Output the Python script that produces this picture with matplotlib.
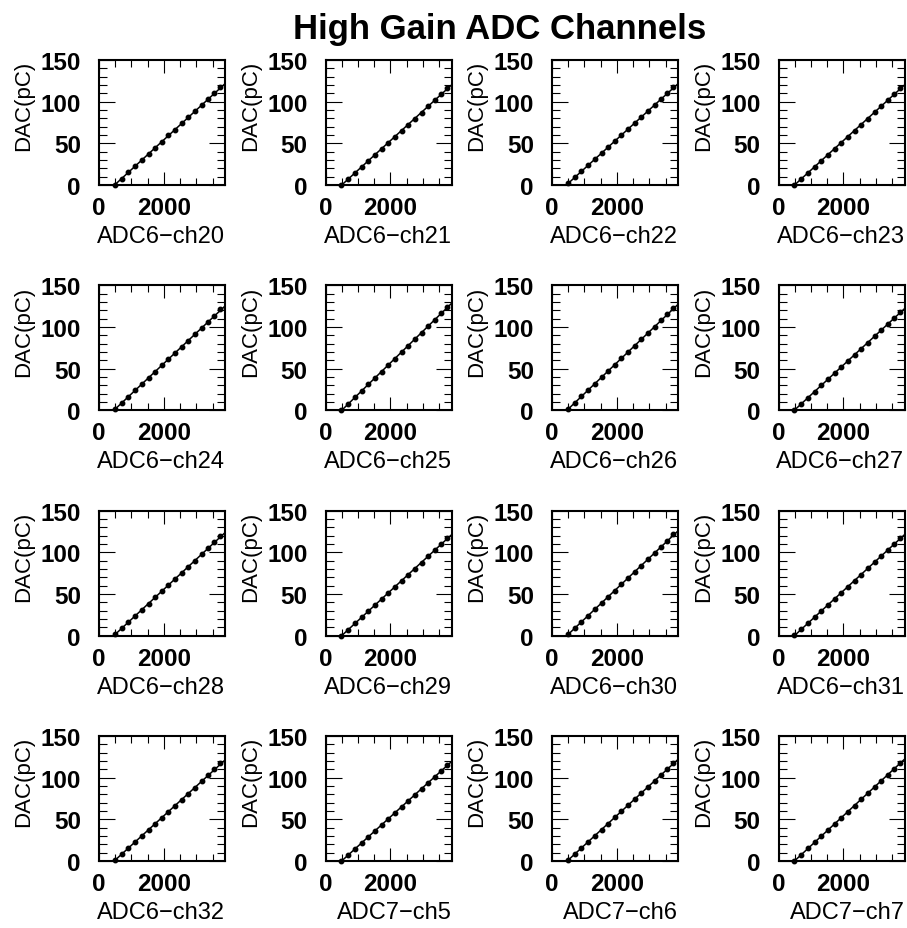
import numpy as np
import matplotlib
matplotlib.use("Agg")
import matplotlib.pyplot as plt
from matplotlib.ticker import MultipleLocator

plt.rcParams['font.family'] = ['Liberation Sans', 'DejaVu Sans']

# channel names, row by row
channels = ["ADC6\u2212ch20", "ADC6\u2212ch21", "ADC6\u2212ch22", "ADC6\u2212ch23",
            "ADC6\u2212ch24", "ADC6\u2212ch25", "ADC6\u2212ch26", "ADC6\u2212ch27",
            "ADC6\u2212ch28", "ADC6\u2212ch29", "ADC6\u2212ch30", "ADC6\u2212ch31",
            "ADC6\u2212ch32", "ADC7\u2212ch5", "ADC7\u2212ch6", "ADC7\u2212ch7"]

# ADC readings of the calibration steps (same for every channel)
adc = [490, 695, 905, 1110, 1320, 1525, 1730, 1935, 2140,
       2345, 2550, 2755, 2960, 3160, 3365, 3555, 3740]

# injected charge (pC) read for each channel
dac_ch20 = [0.3, 7.6, 15.2, 22.6, 29.9, 37.4, 44.8, 52.1, 59.5, 66.6, 74.0, 81.3, 88.6, 95.5, 102.7, 109.9, 117.1]
dac_ch21 = [0.0, 7.3, 14.5, 21.8, 29.0, 36.3, 43.5, 50.8, 58.0, 65.3, 72.5, 79.8, 87.0, 94.3, 101.5, 108.8, 116.0]
dac_ch22 = [2.0, 9.2, 16.4, 23.7, 30.9, 38.1, 45.3, 52.5, 59.8, 67.0, 74.2, 81.4, 88.6, 95.9, 103.1, 110.3, 117.5]
dac_ch23 = [0.2, 7.4, 14.7, 21.9, 29.2, 36.4, 43.6, 50.9, 58.1, 65.4, 72.6, 79.8, 87.1, 94.3, 101.6, 108.8, 116.0]
dac_ch24 = [1.5, 9.0, 16.4, 23.9, 31.4, 38.9, 46.3, 53.8, 61.3, 68.7, 76.2, 83.7, 91.1, 98.6, 106.1, 113.5, 121.0]
dac_ch25 = [0.0, 7.8, 15.5, 23.3, 31.0, 38.8, 46.5, 54.3, 62.0, 69.8, 77.5, 85.3, 93.0, 100.8, 108.5, 116.3, 124.0]
dac_ch26 = [1.5, 9.1, 16.7, 24.3, 31.9, 39.5, 47.0, 54.6, 62.2, 69.8, 77.4, 85.0, 92.6, 100.2, 107.8, 115.4, 123.0]
dac_ch27 = [0.5, 7.8, 15.2, 22.5, 29.9, 37.2, 44.5, 51.9, 59.2, 66.6, 73.9, 81.2, 88.6, 95.9, 103.3, 110.6, 117.9]
dac_ch28 = [1.5, 8.9, 16.3, 23.6, 31.0, 38.4, 45.8, 53.1, 60.5, 67.9, 75.3, 82.6, 90.0, 97.4, 104.8, 112.1, 119.5]
dac_ch29 = [0.0, 7.3, 14.6, 21.9, 29.2, 36.6, 43.9, 51.2, 58.5, 65.8, 73.1, 80.4, 87.7, 95.0, 102.3, 109.7, 117.0]
dac_ch30 = [1.5, 9.0, 16.5, 24.0, 31.5, 39.0, 46.5, 54.0, 61.5, 69.0, 76.5, 84.0, 91.5, 99.0, 106.5, 114.0, 121.5]
dac_ch31 = [0.3, 7.6, 14.9, 22.2, 29.5, 36.8, 44.1, 51.4, 58.7, 66.0, 73.3, 80.6, 87.9, 95.2, 102.5, 109.8, 117.1]
dac_ch32 = [1.0, 8.3, 15.5, 22.8, 30.0, 37.3, 44.5, 51.8, 59.0, 66.3, 73.5, 80.8, 88.0, 95.3, 102.5, 109.8, 117.0]
dac_ch5 = [0.0, 7.2, 14.4, 21.6, 28.8, 36.0, 43.2, 50.4, 57.6, 64.8, 72.0, 79.2, 86.4, 93.6, 100.8, 108.0, 115.2]
dac_ch6 = [1.0, 8.3, 15.6, 22.9, 30.2, 37.5, 44.8, 52.1, 59.4, 66.7, 74.0, 81.3, 88.6, 95.9, 103.2, 110.5, 117.8]
dac_ch7 = [0.2, 7.6, 14.9, 22.3, 29.6, 37.0, 44.4, 51.7, 59.1, 66.4, 73.8, 81.2, 88.5, 95.9, 103.2, 110.6, 118.0]

dac_all = [dac_ch20, dac_ch21, dac_ch22, dac_ch23, dac_ch24, dac_ch25, dac_ch26, dac_ch27,
           dac_ch28, dac_ch29, dac_ch30, dac_ch31, dac_ch32, dac_ch5, dac_ch6, dac_ch7]

W, H = 907, 929
fig = plt.figure(figsize=(W / 100, H / 100), dpi=100)

fig.text(500 / W, 1 - 39 / H, "High Gain ADC Channels", ha='center', va='baseline',
         fontsize=25, fontweight='bold')

xmax = 3880
for k, (name, dac) in enumerate(zip(channels, dac_all)):
    r, c = divmod(k, 4)
    left = 99 + 226.5 * c
    bottom = 186 + 225.3 * r
    ax = fig.add_axes([left / W, 1 - bottom / H, 126 / W, 125 / H])

    # linear fit drawn over the whole range
    p = np.polyfit(adc, dac, 1)
    xx = np.array([0, xmax])
    ax.plot(xx, np.polyval(p, xx), color='black', lw=1.1)
    ax.plot(adc, dac, 'o', color='black', ms=3.2, clip_on=False, zorder=3)

    ax.set_xlim(0, xmax)
    ax.set_ylim(0, 150)
    ax.set_xticks([0, 2000])
    ax.set_yticks([0, 50, 100, 150])
    ax.xaxis.set_minor_locator(MultipleLocator(500))
    ax.yaxis.set_minor_locator(MultipleLocator(10))
    ax.tick_params(axis='both', which='both', direction='in', top=True, right=True, width=0.8)
    ax.tick_params(axis='x', which='major', length=9.5, pad=8)
    ax.tick_params(axis='x', which='minor', length=5)
    ax.tick_params(axis='y', which='major', length=11.5, pad=13)
    ax.tick_params(axis='y', which='minor', length=5.5)
    for lab in ax.get_xticklabels() + ax.get_yticklabels():
        lab.set_fontweight('bold')
        lab.set_fontsize(17.5)
    for s in ax.spines.values():
        s.set_linewidth(1.5)

    ax.text(1.0, -51 / 125, name, transform=ax.transAxes, ha='right', va='center', fontsize=17)
    ax.text(-75 / 126, 1.0, "DAC(pC)", transform=ax.transAxes, rotation=90,
            ha='center', va='top', fontsize=16)

fig.savefig("out.png", dpi=100)
